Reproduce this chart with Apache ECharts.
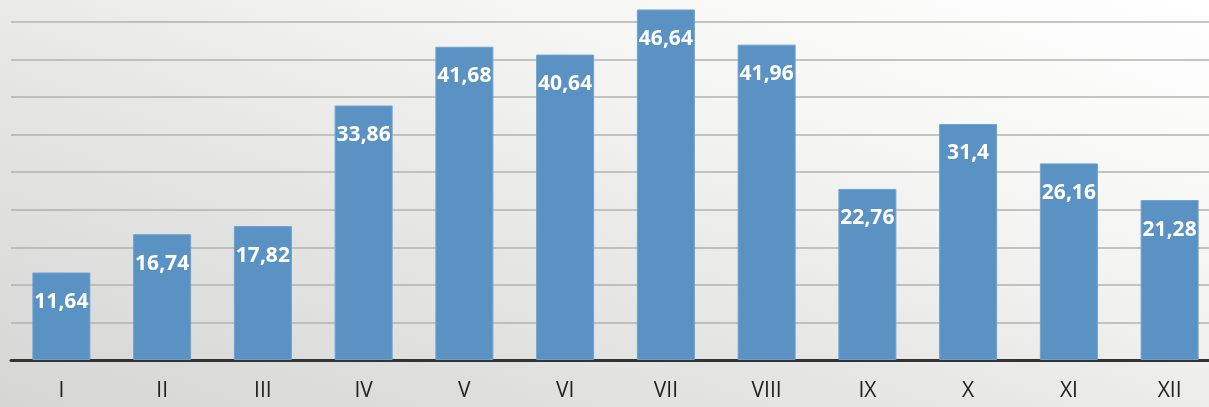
<!DOCTYPE html>
<html>
<head>
<meta charset="utf-8">
<script src="https://cdn.jsdelivr.net/npm/echarts@6/dist/echarts.min.js"></script>
<style>
html,body{margin:0;padding:0;}
body{width:1209px;height:407px;background:linear-gradient(20deg,#d6d7d4 0%,#e6e6e4 40%,#f6f6f5 70%,#ffffff 100%);}
#c{width:1209px;height:407px;}
</style>
</head>
<body>
<div id="c"></div>
<script>
const categories = ["I","II","III","IV","V","VI","VII","VIII","IX","X","XI","XII"];
const values = [11.64,16.74,17.82,33.86,41.68,40.64,46.64,41.96,22.76,31.4,26.16,21.28];

const chart = echarts.init(document.getElementById('c'), null, {renderer:'canvas'});
chart.setOption({
  backgroundColor: 'transparent',
  animation: false,
  grid: {left: 11, width: 1209, top: 0, height: 360, containLabel: false, outerBoundsMode: 'none'},
  xAxis: {
    type: 'category',
    data: categories,
    axisLine: {lineStyle: {color: '#333333', width: 3}},
    axisTick: {show: false},
    axisLabel: {color: '#222222', fontSize: 21, fontFamily: 'Open Sans', margin: 21}
  },
  yAxis: {
    type: 'value',
    min: 0, max: 47.9, interval: 5,
    axisLabel: {show: false},
    axisLine: {show: false},
    axisTick: {show: false},
    splitLine: {showMaxLine: false, lineStyle: {color: '#b2b2b0', width: 1.5}}
  },
  series: [{
    type: 'bar',
    data: values,
    barWidth: 58,
    itemStyle: {color: '#5a92c3', borderColor: '#6ea3cf', borderWidth: 1},
    label: {
      show: true,
      position: 'insideTop',
      distance: 19,
      color: '#ffffff',
      fontSize: 21,
      fontWeight: 'bold',
      fontFamily: 'Open Sans',
      formatter: p => String(p.value).replace('.', ',')
    }
  }]
});
</script>
</body>
</html>
